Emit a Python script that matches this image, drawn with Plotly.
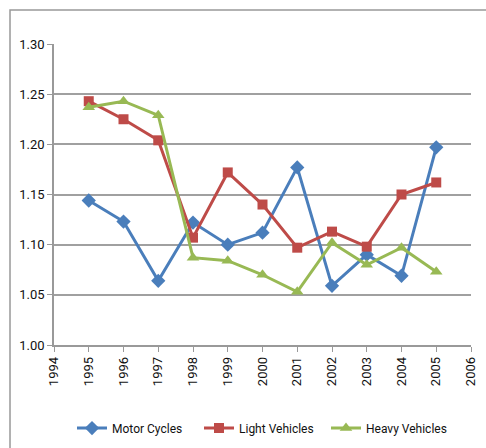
import plotly.graph_objects as go

years = [1995, 1996, 1997, 1998, 1999, 2000, 2001, 2002, 2003, 2004, 2005]
motor_cycles = [1.144, 1.123, 1.064, 1.122, 1.100, 1.112, 1.177, 1.059, 1.090, 1.069, 1.197]
light_vehicles = [1.243, 1.225, 1.204, 1.107, 1.172, 1.140, 1.097, 1.113, 1.098, 1.150, 1.162]
heavy_vehicles = [1.237, 1.243, 1.229, 1.087, 1.084, 1.070, 1.053, 1.102, 1.080, 1.097, 1.073]
x_ticks = list(range(1994, 2007))
y_ticks = [1.00, 1.05, 1.10, 1.15, 1.20, 1.25, 1.30]

FONT = "Roboto, Arial, sans-serif"

fig = go.Figure()
series = [
    ("Motor Cycles", motor_cycles, "#4A7EBB", "diamond", 11),
    ("Light Vehicles", light_vehicles, "#BE4B48", "square", 10),
    ("Heavy Vehicles", heavy_vehicles, "#98B954", "triangle-up", 11),
]
for name, vals, color, sym, size in series:
    fig.add_trace(go.Scatter(
        x=years, y=vals, name=name, mode="lines+markers",
        line=dict(color=color, width=3),
        marker=dict(symbol=sym, size=size, color=color),
    ))

fig.update_layout(
    width=486, height=448,
    margin=dict(l=54, r=15, t=44, b=103, autoexpand=False),
    paper_bgcolor="white", plot_bgcolor="white",
    font=dict(family=FONT, size=13, color="#111"),
    showlegend=True,
    legend=dict(orientation="h", x=0.5, xanchor="center", y=-0.276, yanchor="middle",
                font=dict(size=12, color="#111"), entrywidth=82, entrywidthmode="pixels",
                tracegroupgap=0, bgcolor="rgba(0,0,0,0)"),
    xaxis=dict(range=[1994, 2006], tickvals=x_ticks, ticktext=[str(t) for t in x_ticks],
               tickangle=-90, showgrid=False, showline=True, linecolor="#999", linewidth=1.5,
               ticks="outside", ticklen=5, tickcolor="#999", zeroline=False,
               tickfont=dict(size=13, color="#111")),
    yaxis=dict(range=[1.0, 1.3], tickvals=y_ticks, ticktext=[f"{v:.2f}" for v in y_ticks],
               showgrid=True, gridcolor="#a0a0a0", gridwidth=1.5,
               showline=True, linecolor="#999", linewidth=1.5,
               ticks="outside", ticklen=5, tickcolor="#999", zeroline=False,
               tickfont=dict(size=13, color="#111")),
    shapes=[dict(type="rect", xref="paper", yref="paper",
                 x0=-0.1055, x1=1.2, y0=-0.5, y1=1.113,
                 line=dict(color="#999", width=1.5), fillcolor="rgba(0,0,0,0)", layer="below")],
)

fig.write_html("out.html", config={"displayModeBar": False},
               post_script="document.body.style.margin='0';document.body.style.overflow='hidden';")
